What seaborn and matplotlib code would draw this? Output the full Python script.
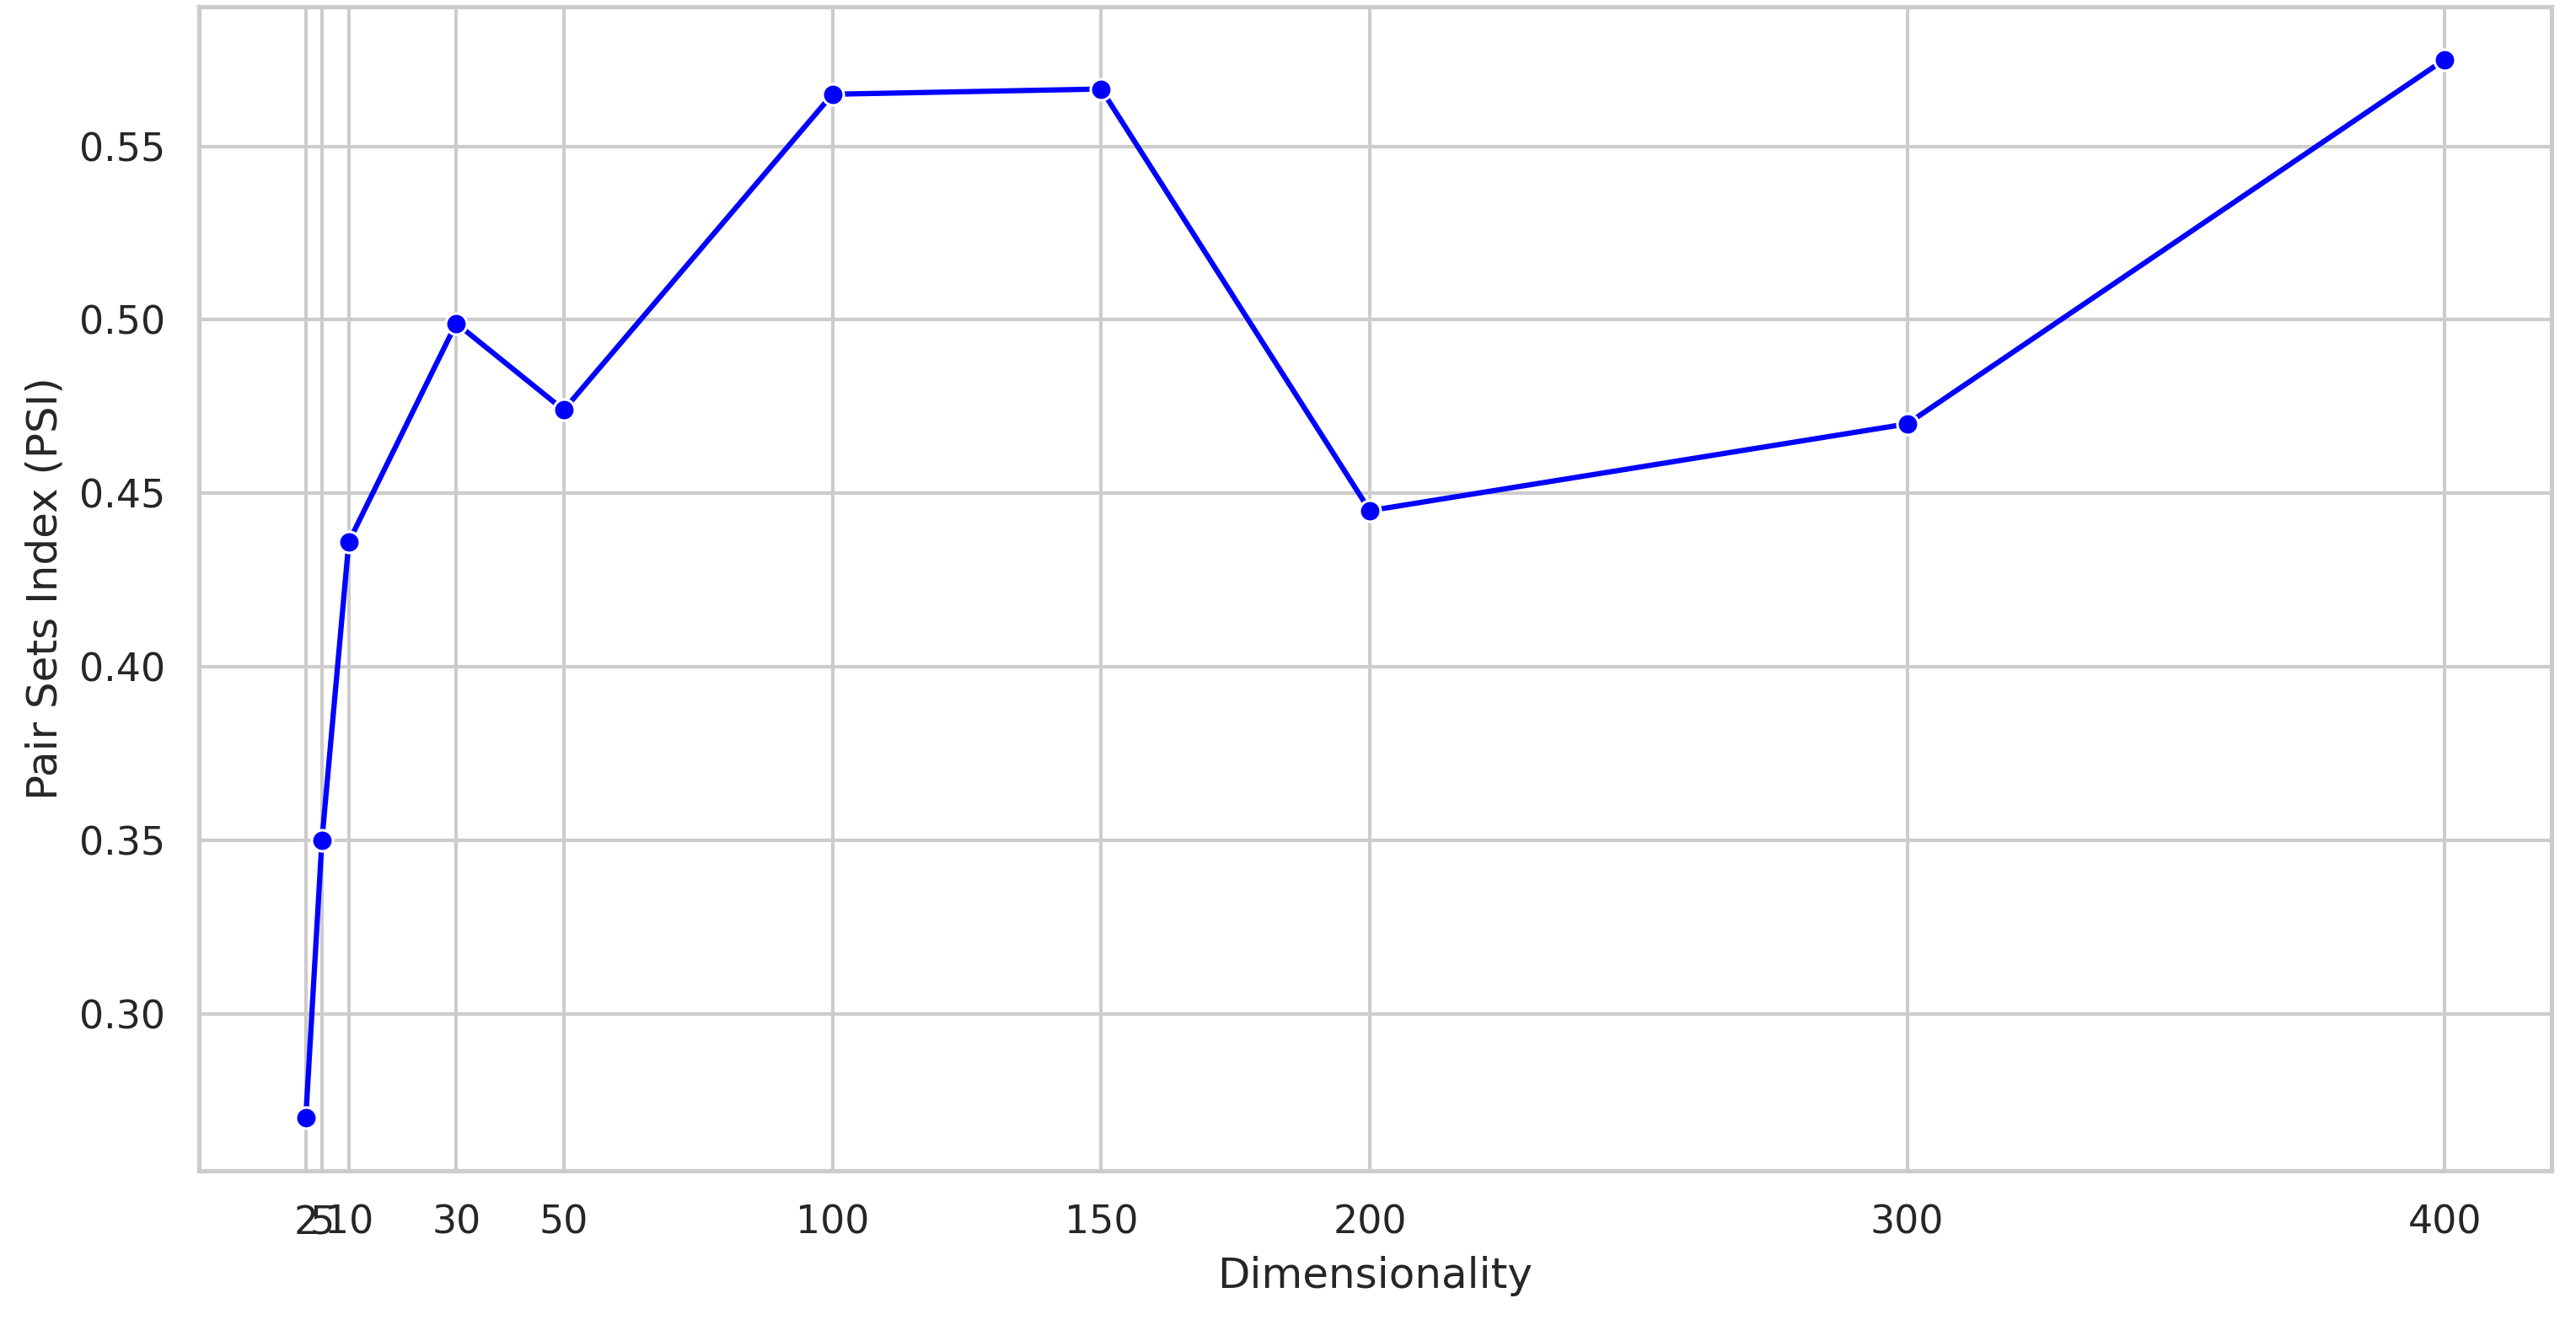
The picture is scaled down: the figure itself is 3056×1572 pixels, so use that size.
import pandas as pd
import matplotlib.pyplot as plt
import seaborn as sns

dims = [2, 5, 10, 30, 50, 100, 150, 200, 300, 400]
psi = [0.270, 0.350, 0.436, 0.499, 0.474, 0.565, 0.5665, 0.445, 0.470, 0.575]

sns.set_theme(style="whitegrid")

df = pd.DataFrame({"Dimensionality": dims, "PSI": psi})

fig = plt.figure(figsize=(10.1867, 5.24), dpi=300)
ax = sns.lineplot(x="Dimensionality", y="PSI", data=df, marker="o", color="blue")
ax.set_xticks(dims)
ax.set_xlabel("Dimensionality")
ax.set_ylabel("Pair Sets Index (PSI)")
plt.subplots_adjust(left=0.0772, right=0.9905, bottom=0.1164, top=0.995)
plt.savefig("out.png", dpi=300)
